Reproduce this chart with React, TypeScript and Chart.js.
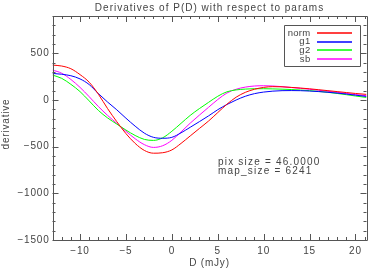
import React, { useEffect, useRef } from "react";
import { Chart, registerables } from "chart.js";

Chart.register(...registerables);

const xValues = [-13, -12, -11, -10, -9, -8, -7, -6, -5, -4, -3, -2, -1, 0, 1, 2, 3, 4, 5, 6, 7, 8, 9, 10, 11, 12, 13, 14, 15, 16, 17, 18, 19, 20, 21.2];

const normValues = [374, 364, 335, 272, 190, 62, -92, -232, -360, -465, -540, -570, -565, -535, -465, -385, -305, -225, -135, -45, 30, 82, 115, 135, 143, 141, 135, 128, 120, 110, 100, 90, 80, 70, 60];
const g1Values = [285, 276, 260, 226, 165, 68, -22, -105, -195, -280, -355, -400, -410, -400, -352, -292, -232, -170, -104, -48, 0, 40, 68, 85, 95, 100, 101, 100, 96, 90, 83, 74, 64, 52, 38];
const g2Values = [267, 232, 168, 90, -10, -112, -192, -258, -322, -380, -422, -433, -405, -335, -250, -165, -92, -25, 40, 88, 108, 117, 121, 121, 119, 116, 112, 107, 100, 92, 82, 70, 57, 43, 27];
const sbValues = [321, 287, 220, 135, 35, -70, -165, -250, -335, -415, -478, -508, -490, -432, -342, -248, -162, -78, 5, 75, 115, 138, 150, 153, 150, 143, 134, 125, 115, 104, 93, 82, 70, 58, 46];

const seriesNames = ["norm", "g1", "g2", "sb"];
const seriesColors = ["#ff0000", "#0000ff", "#00ff00", "#ff00ff"];

const xMin = -13;
const xMax = 21.2;
const yMin = -1500;
const yMax = 900;

const xTicks = [-10, -5, 0, 5, 10, 15, 20];
const xTickLabels = ["\u221210", "\u22125", "0", "5", "10", "15", "20"];
const yTicks = [-1500, -1000, -500, 0, 500];
const yTickLabels = ["\u22121500", "\u22121000", "\u2212500", "0", "500"];

const titleText = "Derivatives of P(D) with respect to params";
const xTitle = "D (mJy)";
const yTitle = "derivative";
const noteLines = ["pix size = 46.0000", "map_size = 6241"];

const AXIS = "#555555";
const TEXT = "#444444";
const FONT = "10px 'Liberation Sans'";

const idlPlugin = {
  id: "idlFrame",
  afterDraw(chart: any) {
    const { ctx, chartArea, scales } = chart;
    const xs = scales.x;
    const ys = scales.y;
    const { left, right, top, bottom } = chartArea;
    ctx.save();
    ctx.strokeStyle = AXIS;
    ctx.lineWidth = 1;
    ctx.beginPath();
    ctx.rect(Math.round(left) + 0.5, Math.round(top) + 0.5, Math.round(right - left), Math.round(bottom - top));
    ctx.stroke();

    ctx.beginPath();
    for (let v = yMin; v <= yMax; v += 100) {
      const py = Math.round(ys.getPixelForValue(v)) + 0.5;
      const len = v % 500 === 0 ? 6 : 3;
      ctx.moveTo(left, py);
      ctx.lineTo(left + len, py);
      ctx.moveTo(right, py);
      ctx.lineTo(right - len, py);
    }
    for (let v = Math.ceil(xMin); v <= xMax; v += 1) {
      const px = Math.round(xs.getPixelForValue(v)) + 0.5;
      const len = v % 5 === 0 ? 6 : 3;
      ctx.moveTo(px, bottom);
      ctx.lineTo(px, bottom - len);
      ctx.moveTo(px, top);
      ctx.lineTo(px, top + len);
    }
    ctx.stroke();

    ctx.fillStyle = TEXT;
    ctx.font = FONT;
    (ctx as any).letterSpacing = "0.8px";
    ctx.textAlign = "right";
    ctx.textBaseline = "middle";
    yTicks.forEach((v, i) => {
      ctx.fillText(yTickLabels[i], left - 3, ys.getPixelForValue(v));
    });
    ctx.textAlign = "center";
    ctx.textBaseline = "middle";
    xTicks.forEach((v, i) => {
      ctx.fillText(xTickLabels[i], xs.getPixelForValue(v), 251);
    });

    ctx.fillText(xTitle, (left + right) / 2, 263.5);
    ctx.save();
    ctx.translate(6.5, (top + bottom) / 2 - 4);
    ctx.rotate(-Math.PI / 2);
    ctx.fillText(yTitle, 0, 0);
    ctx.restore();

    (ctx as any).letterSpacing = "1px";
    ctx.fillText(titleText, (left + right) / 2, 8.5);

    (ctx as any).letterSpacing = "1.2px";
    ctx.textAlign = "left";
    noteLines.forEach((t, i) => {
      ctx.fillText(t, 218, 162 + i * 9);
    });

    // legend
    ctx.strokeStyle = AXIS;
    ctx.beginPath();
    ctx.rect(284.5, 25.5, 76, 41);
    ctx.stroke();
    (ctx as any).letterSpacing = "0.3px";
    ctx.font = "9.5px 'Liberation Sans'";
    seriesNames.forEach((n, i) => {
      const y = 33 + i * 8.7;
      ctx.fillStyle = TEXT;
      ctx.textAlign = "right";
      ctx.fillText(n, 310.5, y);
      ctx.strokeStyle = seriesColors[i];
      ctx.lineWidth = 1.3;
      ctx.beginPath();
      ctx.moveTo(317, Math.round(y));
      ctx.lineTo(352, Math.round(y));
      ctx.stroke();
    });
    ctx.restore();
  },
};

export default function App() {
  const ref = useRef<HTMLCanvasElement>(null);
  useEffect(() => {
    if (!ref.current) return;
    const all = [normValues, g1Values, g2Values, sbValues];
    const chart = new Chart(ref.current, {
      type: "line",
      data: {
        datasets: all.map((vals, i) => ({
          label: seriesNames[i],
          data: xValues.map((x, j) => ({ x, y: vals[j] })),
          borderColor: seriesColors[i],
          borderWidth: 1,
          pointRadius: 0,
          cubicInterpolationMode: "monotone" as const,
          fill: false,
        })),
      },
      options: {
        animation: false,
        responsive: false,
        devicePixelRatio: 1,
        layout: { padding: { left: 52.5, right: 15.5, top: 16, bottom: 33 } },
        plugins: { legend: { display: false }, tooltip: { enabled: false }, title: { display: false } },
        scales: {
          x: { type: "linear", min: xMin, max: xMax, display: false },
          y: { type: "linear", min: yMin, max: yMax, display: false },
        },
      },
      plugins: [idlPlugin],
    });
    return () => chart.destroy();
  }, []);
  return (
    <div style={{ position: "absolute", left: 0, top: 0, width: 382, height: 273, background: "#fff" }}>
      <canvas ref={ref} width={382} height={273} style={{ width: 382, height: 273, display: "block" }} />
    </div>
  );
}
